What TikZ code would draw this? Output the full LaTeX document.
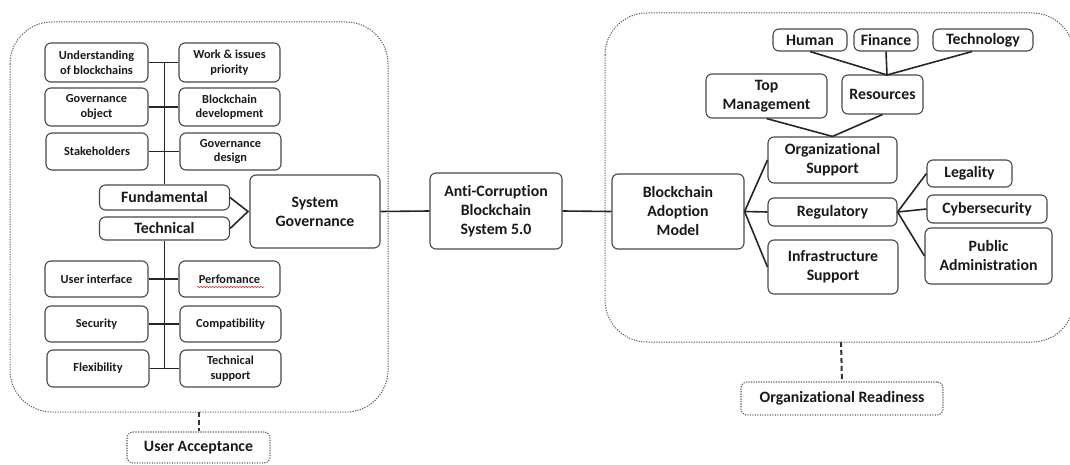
\documentclass[tikz,border=0pt]{standalone}
\usepackage{fontspec}
\setmainfont{Carlito}[Ligatures={NoCommon}]
\usetikzlibrary{decorations.pathmorphing}
\tikzset{
  bx/.style={draw=black!72, line width=1.1pt, rounded corners=6pt, inner sep=0pt, align=center, font=\fontsize{12.3}{14.5}\selectfont\bfseries, text=black!90},
  bigbx/.style={bx, font=\fontsize{15.8}{19}\selectfont\bfseries},
  conn/.style={draw=black!85, line width=1.6pt},
  cont/.style={draw=black!65, line width=1pt, dash pattern=on 1.2pt off 1.3pt, rounded corners=42pt},
  dotbx/.style={bigbx, draw=black!65, dash pattern=on 1.2pt off 1.3pt},
  dconn/.style={draw=black!80, line width=2pt, dash pattern=on 5pt off 3pt},
}
\begin{document}
\begin{tikzpicture}[x=1pt,y=-1pt]
\useasboundingbox (0,0) rectangle (1070,465);
% containers
\draw[cont] (10,22) rectangle (388,412);
\coordinate (lcs) at (198.5,412);
\draw[cont] (605,13) rectangle (1074,342);
\coordinate (rcs) at (841,342);

% left upper boxes
\node[bx, minimum width=103pt, minimum height=39pt] (u1) at (96.5,62.5) {Understanding\\of blockchains};
\node[bx, minimum width=101pt, minimum height=39pt] (w1) at (229.5,62.5) {Work \& issues\\priority};
\node[bx, minimum width=103pt, minimum height=38pt] (g1) at (96.5,107) {Governance\\object};
\node[bx, minimum width=101pt, minimum height=38pt] (b1) at (229.5,107) {Blockchain\\development};
\node[bx, minimum width=102pt, minimum height=37pt] (s1) at (97,151.5) {Stakeholders};
\node[bx, minimum width=101pt, minimum height=37pt] (g2) at (230.5,151.5) {Governance\\design};

\node[bigbx, minimum width=130pt, minimum height=25pt] (fund) at (164.5,197.5) {Fundamental};
\node[bigbx, minimum width=130pt, minimum height=23pt] (tech) at (164.5,228.5) {Technical};
\node[bigbx, minimum width=130pt, minimum height=73pt] (sg) at (315,211.5) {System\\Governance};

% left lower boxes
\node[bx, minimum width=103pt, minimum height=36pt] (ui) at (96.5,279) {User interface};
\node[bx, minimum width=101pt, minimum height=36pt] (pf) at (229.5,279) {Perfomance};
\node[bx, minimum width=103pt, minimum height=36pt] (sc) at (96.5,324) {Security};
\node[bx, minimum width=101pt, minimum height=36pt] (cp) at (230.5,324) {Compatibility};
\node[bx, minimum width=102pt, minimum height=37pt] (fx) at (98,368.5) {Flexibility};
\node[bx, minimum width=101pt, minimum height=37pt] (ts) at (230.5,368.5) {Technical\\support};

% spell-check underline
\draw[red!85, line width=0.6pt, decorate, decoration={snake, amplitude=0.7pt, segment length=3pt}] (197,287) -- (264,287);

% left connectors
\draw[conn] (u1.east) -- (w1.west);
\draw[conn] (g1.east) -- (b1.west);
\draw[conn] (s1.east) -- (g2.west);
\draw[conn] (fund.north) -- (fund.north |- u1.east);
\draw[conn] (ui.east) -- (pf.west);
\draw[conn] (sc.east) -- (cp.west);
\draw[conn] (fx.east) -- (ts.west);
\draw[conn] (tech.south) -- (tech.south |- fx.east);
\coordinate (apex) at (248,211.5);
\draw[conn] (fund.east) -- (apex) -- (tech.east);
\draw[conn] (apex) -- (sg.west);

% center
\node[bigbx, minimum width=132pt, minimum height=76pt] (acs) at (496,211) {Anti-Corruption\\Blockchain\\System 5.0};
\node[bigbx, minimum width=132pt, minimum height=75pt] (bam) at (678,211.5) {Blockchain\\Adoption\\Model};
\draw[conn] (sg.east) -- (acs.west);
\draw[conn] (acs.east) -- (bam.west);

% right
\node[bigbx, minimum width=129pt, minimum height=46pt] (os) at (832.5,160) {Organizational\\Support};
\node[bigbx, minimum width=129pt, minimum height=28pt] (reg) at (832.5,212) {Regulatory};
\node[bigbx, minimum width=130pt, minimum height=54pt] (inf) at (833,267) {Infrastructure\\Support};
\node[bigbx, minimum width=85pt, minimum height=27pt] (leg) at (969.5,173.5) {Legality};
\node[bigbx, minimum width=120pt, minimum height=28pt] (cyb) at (987,209) {Cybersecurity};
\node[bigbx, minimum width=127pt, minimum height=56pt] (pa) at (988.5,256) {Public\\Administration};
\node[bigbx, minimum width=121pt, minimum height=44pt] (tm) at (766.5,96) {Top\\Management};
\node[bigbx, minimum width=81pt, minimum height=39pt] (res) at (882.5,94.5) {Resources};
\node[bigbx, minimum width=74pt, minimum height=22pt] (hum) at (810,40) {Human};
\node[bigbx, minimum width=64pt, minimum height=22pt] (fin) at (886,40) {Finance};
\node[bigbx, minimum width=100pt, minimum height=22pt] (tec) at (983,40) {Technology};

\draw[conn] (bam.east) -- (os.west);
\draw[conn] (bam.east) -- (reg.west);
\draw[conn] (bam.east) -- (inf.west);
\draw[conn] (reg.east) -- (leg.west);
\draw[conn] (reg.east) -- (cyb.west);
\draw[conn] (reg.east) -- (pa.west);
\draw[conn] (tm.south) -- (os.north);
\draw[conn] (res.south) -- (os.north);
\coordinate (rtop) at (887,75);
\draw[conn] (hum.south) -- (rtop);
\draw[conn] (fin.south) -- (rtop);
\draw[conn] ([xshift=-11pt]tec.south) -- (rtop);

% readiness / acceptance
\node[dotbx, minimum width=143pt, minimum height=31pt] (ua) at (198.5,447.5) {User Acceptance};
\node[dotbx, minimum width=202pt, minimum height=33pt] (or) at (842,398.5) {Organizational Readiness};
\draw[dconn] (lcs) -- (ua.north);
\draw[dconn] (rcs) -- (or.north);
\end{tikzpicture}
\end{document}
